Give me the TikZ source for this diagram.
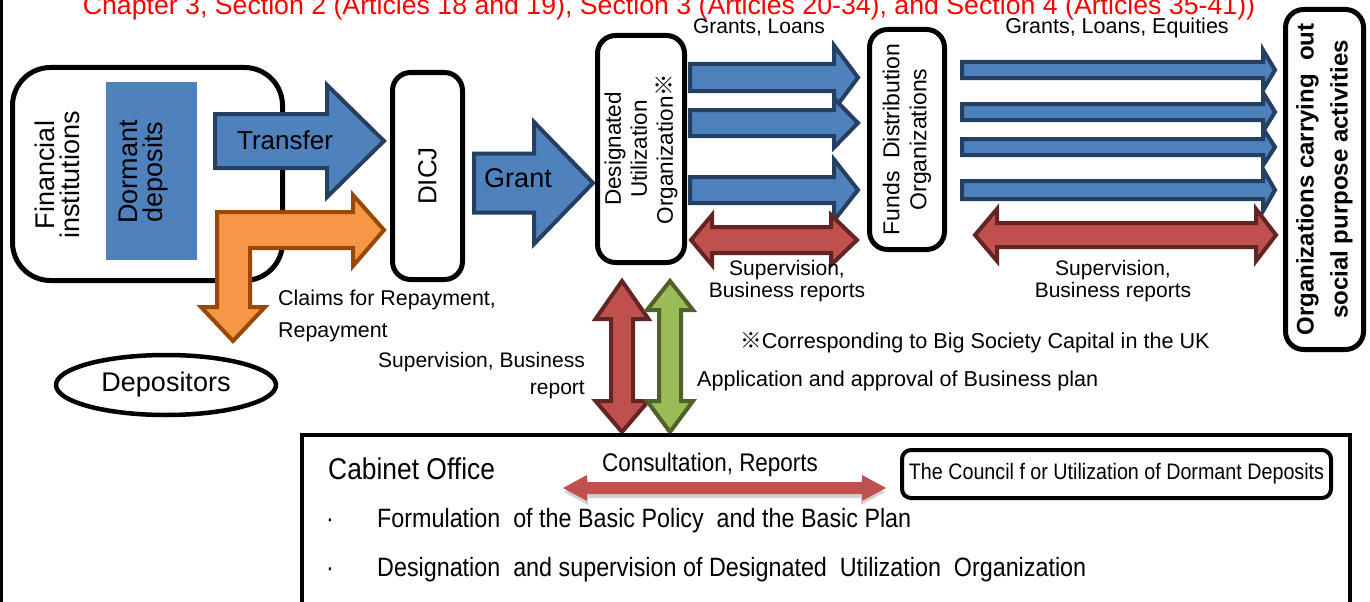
\documentclass[tikz,border=0pt]{standalone}
\usepackage{fontspec}
\setmainfont{Liberation Sans}
\newfontfamily\narrowfont{Liberation Sans}[FakeStretch=0.88]
\newfontfamily\refmark{Noto Sans CJK JP}
\usetikzlibrary{shapes.geometric}
\newcommand\fs[2]{\fontsize{#1}{#2}\selectfont}
\definecolor{bluefill}{HTML}{4F81BD}
\definecolor{blueline}{HTML}{243F60}
\definecolor{redfill}{HTML}{C0504D}
\definecolor{redline}{HTML}{632523}
\definecolor{greenfill}{HTML}{9BBB59}
\definecolor{greenline}{HTML}{4F6228}
\definecolor{orangefill}{HTML}{F79646}
\definecolor{orangeline}{HTML}{984807}
\definecolor{titlered}{HTML}{FF0000}
% block arrow pointing right: style, tail x, head base x, tip x, centre y, half shaft, half head
\newcommand\rightblock[7]{\draw[#1] (#2,#5-#6) -- (#3,#5-#6) -- (#3,#5-#7) -- (#4,#5) -- (#3,#5+#7) -- (#3,#5+#6) -- (#2,#5+#6) -- cycle;}
% horizontal two-headed block arrow: style, left tip, left base, right base, right tip, centre y, half shaft, half head
\newcommand\hdouble[8]{\draw[#1] (#2,#6) -- (#3,#6-#8) -- (#3,#6-#7) -- (#4,#6-#7) -- (#4,#6-#8) -- (#5,#6) -- (#4,#6+#8) -- (#4,#6+#7) -- (#3,#6+#7) -- (#3,#6+#8) -- cycle;}
% vertical two-headed block arrow: style, centre x, top tip, top base, bottom base, bottom tip, half shaft, half head
\newcommand\vdouble[8]{\draw[#1] (#2,#3) -- (#2+#8,#4) -- (#2+#7,#4) -- (#2+#7,#5) -- (#2+#8,#5) -- (#2,#6) -- (#2-#8,#5) -- (#2-#7,#5) -- (#2-#7,#4) -- (#2-#8,#4) -- cycle;}
\begin{document}
\begin{tikzpicture}[x=1pt,y=-1pt,
  box/.style={draw=black, line width=5pt, fill=white, rounded corners=18pt, inner sep=0pt, align=center},
  bluearrow/.style={fill=bluefill, draw=blueline, line width=4pt, line join=miter},
  redarrow/.style={fill=redfill, draw=redline, line width=4pt, line join=miter},
  greenarrow/.style={fill=greenfill, draw=greenline, line width=4pt, line join=miter},
  orangearrow/.style={fill=orangefill, draw=orangeline, line width=4pt, line join=miter},
  label/.style={inner sep=0pt, align=center, font=\fs{21}{22}},
  note/.style={inner sep=0pt, anchor=base west, font=\fs{21.4}{21}},
  bigtext/.style={inner sep=0pt, align=center, font=\fs{27}{25}},
  cabtext/.style={inner sep=0pt, anchor=base west, font=\narrowfont\fs{26.5}{30}}]
\useasboundingbox (0,0) rectangle (1370,602);
\clip (0,0) rectangle (1370,602);
\fill[white] (0,0) rectangle (1370,602);
\draw[line width=3pt] (1.5,-2) -- (1.5,604);

% heading
\node[text=titlered, inner sep=0pt, anchor=base, font=\fs{26.7}{26}] (title) at (669,15)
  {Chapter 3, Section 2 (Articles 18 and 19), Section 3 (Articles 20-34), and Section 4 (Articles 35-41))};

% financial institutions
\node[box, rounded corners=38pt, minimum width=270pt, minimum height=213pt] (fin) at (147.5,174) {};
\node[fill=bluefill, draw=bluefill, line width=1pt, minimum width=90pt, minimum height=177pt, inner sep=0pt] (dormant) at (151.5,171) {};
\node[bigtext, rotate=90] (fintxt) at (57,175) {Financial\\institutions};
\node[bigtext, rotate=90] (dormtxt) at (144,172) {Dormant\\deposits};

% transfer and repayment arrows
\rightblock{bluearrow}{215}{327}{384}{141}{27}{56}
\node[inner sep=0pt, font=\fs{26}{26}] (transfer) at (285,140) {Transfer};
\draw[orangearrow] (217,212) -- (353,212) -- (353,195) -- (384,230) -- (353,266) -- (353,248) -- (250,248) -- (250,307) -- (265,307) -- (233,341) -- (201,307) -- (217,307) -- cycle;

% depositors
\node[ellipse, draw, line width=4.5pt, minimum width=220pt, minimum height=60pt, inner sep=0pt, font=\fs{27}{27}] (depositors) at (166,385) {Depositors};

% DICJ
\node[box, rotate=90, minimum width=207pt, minimum height=70pt, font=\fs{26}{26}] (dicj) at (427.5,176) {DICJ};
\rightblock{bluearrow}{474}{534}{593}{183}{29.5}{61}
\node[inner sep=0pt, font=\fs{27}{27}] (grant) at (518,178) {Grant};

% designated utilization organization
\node[box, rotate=90, minimum width=227pt, minimum height=87pt, font=\fs{22.5}{26}] (duo) at (641,149) {Designated\\Utilization\\Organization{\refmark ※}};

% arrows to funds distribution organizations
\rightblock{bluearrow}{690}{834}{858}{77.5}{13.5}{32}
\rightblock{bluearrow}{690}{834}{858}{123}{13}{24.5}
\rightblock{bluearrow}{690}{834}{858}{190}{13}{30.5}
\hdouble{redarrow}{691}{712}{831}{857}{240}{13}{25}
\node[label, anchor=base] (gl) at (759,34) {Grants, Loans};
\node[label] (sup1) at (787,281) {Supervision,\\Business reports};

% funds distribution organizations
\node[box, rotate=90, minimum width=220pt, minimum height=75pt, font=\fs{23}{27}] (fdo) at (907,139.5) {Funds\ \ Distribution\\Organizations};

% arrows to organizations carrying out social purpose activities
\rightblock{bluearrow}{962}{1263}{1275}{70}{8}{20}
\rightblock{bluearrow}{962}{1263}{1275}{112}{8}{19.5}
\rightblock{bluearrow}{962}{1263}{1275}{147}{8}{18.5}
\rightblock{bluearrow}{962}{1263}{1275}{190}{9}{21}
\hdouble{redarrow}{975}{997}{1256}{1276}{235}{12}{26}
\node[label, anchor=base, font=\fs{21.5}{22}] (gle) at (1117,34) {Grants, Loans, Equities};
\node[label] (sup2) at (1113,281) {Supervision,\\Business reports};

\node[box, rotate=90, minimum width=340pt, minimum height=78pt, font=\bfseries\fs{24}{34}] (org) at (1324.5,179.5) {Organizations carrying\ \ out\\social purpose activities};

% notes in the middle band
\node[note] (claims) at (278,305) {Claims for Repayment,};
\node[note] (repay) at (278,337) {Repayment};
\node[inner sep=0pt, anchor=base east, align=right, font=\fs{21}{27}] (supbr) at (585,394) {Supervision, Business\\report};
\node[note, font=\fs{21.6}{21}] (bsc) at (740,348) {{\refmark ※}Corresponding to Big Society Capital in the UK};
\node[note, font=\fs{21.6}{21}] (appl) at (697,386) {Application and approval of Business plan};

% links between the organization and the cabinet office
\vdouble{redarrow}{622}{281}{319}{401}{432}{11}{26.5}
\vdouble{greenarrow}{670}{281}{310}{401}{432}{11}{23}

% cabinet office
\node[draw, line width=4pt, minimum width=1048pt, minimum height=265pt, inner sep=0pt] (cabinet) at (826,567.5) {};
\node[cabtext, font=\narrowfont\fs{30}{30}] (cabtitle) at (328,479) {Cabinet Office};
\node[inner sep=0pt, anchor=base, font=\narrowfont\fs{25.5}{25}] (consult) at (710,471) {Consultation, Reports};
\hdouble{fill=black!18, draw=none}{564}{588}{861}{885}{492}{6}{13}
\hdouble{fill=redfill, draw=none}{563}{587}{862}{886}{488}{6}{13}
\node[box, rounded corners=9pt, line width=4pt, minimum width=429pt, minimum height=48pt, font=\narrowfont\fs{22.4}{22}] (council) at (1116.5,474) {The Council f or Utilization of Dormant Deposits};
\node[cabtext] (dot1) at (326,527) {·};
\node[cabtext] (item1) at (377,527) {Formulation\ \ of the Basic Policy\ \ and the Basic Plan};
\node[cabtext] (dot2) at (326,576) {·};
\node[cabtext] (item2) at (377,576) {Designation\ \ and supervision of Designated\ \ Utilization\ \ Organization};
\end{tikzpicture}
\end{document}
